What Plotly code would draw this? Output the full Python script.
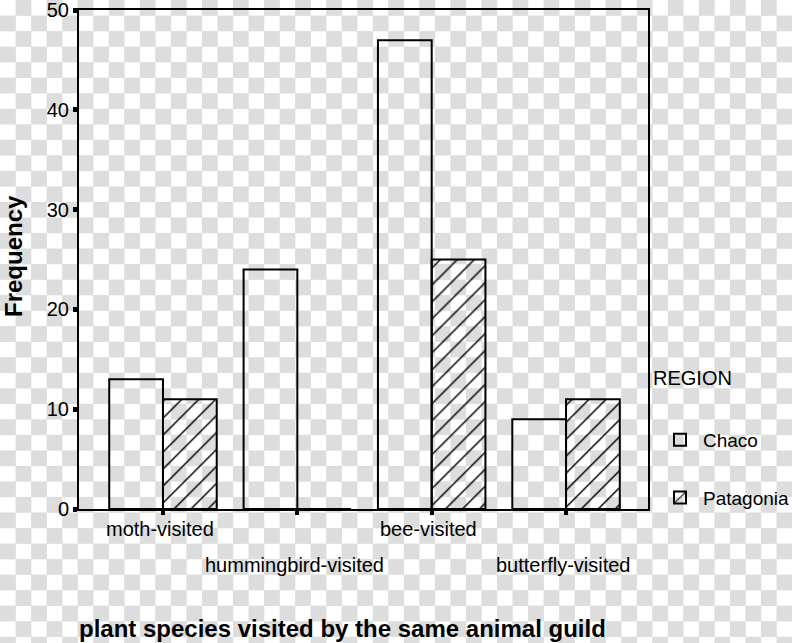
import base64

import plotly.graph_objects as go

categories = ["moth-visited", "hummingbird-visited", "bee-visited", "butterfly-visited"]
chaco = [13, 24, 47, 9]
patagonia = [11, 0, 25, 11]
y_ticks = [0, 10, 20, 30, 40, 50]

W, H = 792, 643
FONT = "Liberation Sans, Arial, sans-serif"


def checker_bg(w, h, n=51):
    # transparent-png style checkerboard behind everything
    c = w / n
    rects = []
    for j in range(int(h / c) + 2):
        for i in range(n + 1):
            if (i + j) % 2:
                rects.append(f'<rect x="{i*c:.2f}" y="{j*c:.2f}" width="{c+0.3:.2f}" height="{c+0.3:.2f}"/>')
    svg = (f'<svg xmlns="http://www.w3.org/2000/svg" width="{w}" height="{h}" '
           f'viewBox="0 0 {w} {h}" preserveAspectRatio="none">'
           f'<rect width="{w}" height="{h}" fill="#ffffff"/>'
           f'<g fill="#dddddd">{"".join(rects)}</g></svg>')
    return "data:image/svg+xml;base64," + base64.b64encode(svg.encode()).decode()


fig = go.Figure()
fig.add_trace(go.Bar(
    x=categories, y=chaco, name="Chaco", legendgroup="a",
    marker=dict(color="rgba(0,0,0,0)", line=dict(color="black", width=2))))
fig.add_trace(go.Bar(
    x=categories, y=patagonia, name="Patagonia", legendgroup="b",
    marker=dict(color="rgba(0,0,0,0)", line=dict(color="black", width=2),
                pattern=dict(shape="/", fgcolor="black", bgcolor="rgba(0,0,0,0)",
                             size=12, solidity=0.12, fillmode="replace"))))

x_dom = [79 / W, 648 / W]
y_dom = [1 - 509 / H, 1 - 10 / H]

annotations = []
for i, cat in enumerate(categories):
    annotations.append(dict(
        x=cat, xref="x", y=y_dom[0], yref="paper", text=cat, showarrow=False,
        yanchor="middle", xshift=-3, yshift=-20 if i % 2 == 0 else -56,
        font=dict(family=FONT, size=20, color="black")))
annotations += [
    dict(x=13 / W, y=1 - 256 / H, xref="paper", yref="paper", xanchor="center",
         yanchor="middle", text="<b>Frequency</b>", textangle=-90, showarrow=False,
         font=dict(family=FONT, size=24, color="black")),
    dict(x=77 / W, y=1 - 628 / H, xref="paper", yref="paper", xanchor="left",
         yanchor="middle", text="<b>plant species visited by the same animal guild</b>",
         showarrow=False, font=dict(family=FONT, size=24, color="black")),
    dict(x=651 / W, y=1 - 378 / H, xref="paper", yref="paper", xanchor="left",
         yanchor="middle", text="REGION", showarrow=False,
         font=dict(family=FONT, size=20, color="black")),
]

fig.update_layout(
    width=W, height=H,
    margin=dict(l=0, r=0, t=0, b=0, autoexpand=False),
    paper_bgcolor="white",
    plot_bgcolor="rgba(0,0,0,0)",
    font=dict(family=FONT, size=20, color="black"),
    barmode="group", bargap=0.2, bargroupgap=0,
    xaxis=dict(domain=x_dom, range=[-0.625, 3.61], showticklabels=False,
               ticks="outside", ticklen=4, tickwidth=4, tickcolor="black",
               showline=True, linecolor="black", linewidth=2, mirror=True,
               showgrid=False, zeroline=False, automargin=False),
    yaxis=dict(domain=y_dom, range=[0, 50.02], tickvals=y_ticks,
               ticks="outside", ticklen=4, tickwidth=5, tickcolor="black",
               showline=True, linecolor="black", linewidth=2, mirror=True,
               showgrid=False, zeroline=False, automargin=False,
               ticklabeloverflow="allow", tickfont=dict(size=20)),
    legend=dict(x=657 / W, y=1 - 421 / H, xanchor="left", yanchor="top",
                bgcolor="rgba(0,0,0,0)", tracegroupgap=30, itemwidth=36,
                font=dict(family=FONT, size=19, color="black")),
    annotations=annotations,
    images=[dict(source=checker_bg(W, H), xref="paper", yref="paper", x=0, y=1,
                 sizex=1, sizey=1, xanchor="left", yanchor="top",
                 sizing="stretch", layer="below")],
)

fig.write_html(
    "out.html",
    config={"displayModeBar": False},
    post_script=("document.documentElement.style.overflow='hidden';"
                 "document.body.style.overflow='hidden';"
                 "document.body.style.margin='0px';"),
)
